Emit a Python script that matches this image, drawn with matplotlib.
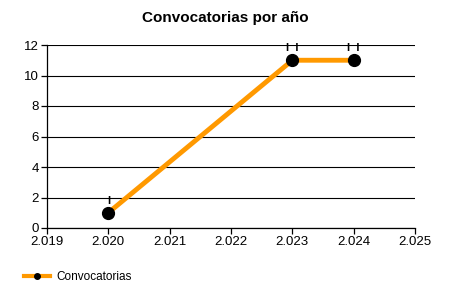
import matplotlib
matplotlib.use("Agg")
import matplotlib.pyplot as plt
from matplotlib.lines import Line2D

years = [2020, 2023, 2024]
counts = [1, 11, 11]
point_labels = ["I", "I  I", "I  I"]
xticks = [2019, 2020, 2021, 2022, 2023, 2024, 2025]
xtick_labels = ["2.019", "2.020", "2.021", "2.022", "2.023", "2.024", "2.025"]
yticks = [0, 2, 4, 6, 8, 10, 12]
series_name = "Convocatorias"
title = "Convocatorias por año"

plt.rcParams['font.family'] = ['Liberation Sans', 'DejaVu Sans']

fig = plt.figure(figsize=(4.5, 3), dpi=100)
ax = fig.add_axes([47/450, 1-228/300, (415-47)/450, (228-45)/300])

ax.plot(years, counts, color='#FF9900', lw=3.5, zorder=3, solid_capstyle='butt')
ax.plot(years, counts, 'o', color='black', ms=8.5, zorder=4)
for x, y, t in zip(years, counts, point_labels):
    ax.annotate(t, (x, y), xytext=(0, 5), textcoords='offset points',
                ha='center', va='bottom', fontsize=8, fontweight='bold', color='black')

ax.set_xlim(2019, 2025)
ax.set_ylim(0, 12)
ax.set_xticks(xticks)
ax.set_xticklabels(xtick_labels)
ax.set_yticks(yticks)
ax.grid(axis='y', color='black', lw=0.8)
ax.set_axisbelow(True)
for s in ['top', 'right']:
    ax.spines[s].set_visible(False)
for s in ['left', 'bottom']:
    ax.spines[s].set_linewidth(0.9)
ax.tick_params(axis='both', labelsize=9.5, length=4, width=0.9, pad=2, colors='black')

fig.text(0.5, 1-18/300, title, ha='center', va='center', fontsize=11, fontweight='bold')

handle = Line2D([0], [0], color='#FF9900', lw=3, marker='o', mfc='black', mec='black', ms=4)
fig.legend([handle], [series_name], loc='center left', bbox_to_anchor=(0.03, 1-277/300),
           frameon=False, fontsize=8.5, handlelength=2.2, handletextpad=0.5)

fig.savefig("out.png", dpi=100)
